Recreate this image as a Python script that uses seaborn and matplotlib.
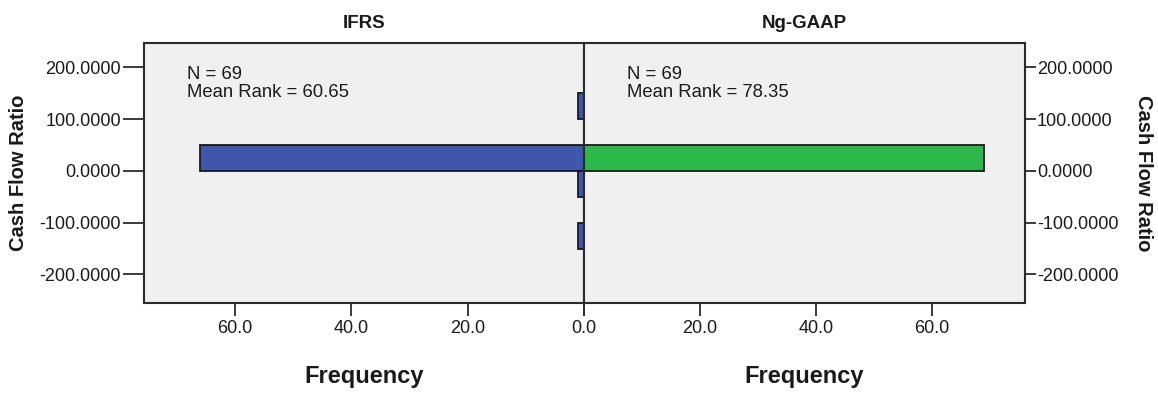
import numpy as np
import pandas as pd
import seaborn as sns
import matplotlib
matplotlib.use("Agg")
import matplotlib.pyplot as plt
from matplotlib.ticker import FixedLocator, FuncFormatter

# Frequency of Cash Flow Ratio by reporting framework (bins of width 50)
bin_width = 50
bin_range = (-250, 250)
ifrs_bin_lower = [100, 0, -50, -150]
ifrs_counts = [1, 66, 1, 1]
nggaap_bin_lower = [0]
nggaap_counts = [69]

groups = ["IFRS", "Ng-GAAP"]
group_n = [69, 69]
mean_ranks = [60.65, 78.35]

y_ticks = [200, 100, 0, -100, -200]
x_ticks = [0, 20, 40, 60]

sns.set_style("white")
plt.rcParams["font.family"] = ["Liberation Sans", "DejaVu Sans"]

BLUE = "#3E57AB"
GREEN = "#2DB84B"
PANEL_BG = "#F0F0F0"
INK = "#1A1A1A"

fig = plt.figure(figsize=(11.58, 3.94), dpi=100)
W, H = 1158, 394
top_px, bot_px = 43, 302.7
left_px, mid_px, right_px = 144, 584, 1025
ax_h = (bot_px - top_px) / H
ax_b = (H - bot_px) / H
ax_l = fig.add_axes([left_px / W, ax_b, (mid_px - left_px) / W, ax_h])
ax_r = fig.add_axes([mid_px / W, ax_b, (right_px - mid_px) / W, ax_h])

df_l = pd.DataFrame({"ratio": np.array(ifrs_bin_lower) + bin_width / 2,
                     "count": ifrs_counts})
df_r = pd.DataFrame({"ratio": np.array(nggaap_bin_lower) + bin_width / 2,
                     "count": nggaap_counts})

for ax, df, col in [(ax_l, df_l, BLUE), (ax_r, df_r, GREEN)]:
    sns.histplot(data=df, y="ratio", weights="count", binwidth=bin_width,
                 binrange=bin_range, color=col, edgecolor=INK, linewidth=1.3,
                 alpha=1, ax=ax)
    ax.set_facecolor(PANEL_BG)
    ax.set_ylim(-254.5, 247.3)
    for s in ax.spines.values():
        s.set_color("#2B2B2B")
        s.set_linewidth(1.5)
    ax.yaxis.set_major_locator(FixedLocator(y_ticks))
    ax.yaxis.set_major_formatter(FuncFormatter(lambda v, p: f"{v:.4f}"))
    ax.xaxis.set_major_locator(FixedLocator(x_ticks))
    ax.tick_params(axis="x", direction="out", length=9.5, width=1.3,
                   colors="#2B2B2B", labelsize=13, labelcolor=INK, pad=3,
                   bottom=True)

# left panel: bars grow leftwards
ax_l.set_xlim(75.6, 0)
ax_l.xaxis.set_major_formatter(FuncFormatter(lambda v, p: f"{v:.1f}"))
ax_l.yaxis.tick_left()
ax_l.tick_params(axis="y", direction="out", length=15, width=1.3,
                 colors="#2B2B2B", labelsize=13, labelcolor=INK, pad=1.5)

ax_r.set_xlim(0, 76.0)
ax_r.xaxis.set_major_formatter(
    FuncFormatter(lambda v, p: "" if v == 0 else f"{v:.1f}"))
ax_r.yaxis.tick_right()
ax_r.yaxis.set_label_position("right")
ax_r.tick_params(axis="y", direction="out", length=8, width=1.3,
                 colors="#2B2B2B", labelsize=13, labelcolor=INK, pad=0.5)

for ax, name, n, mr in zip([ax_l, ax_r], groups, group_n, mean_ranks):
    ax.set_title(name, fontsize=13.5, fontweight="bold", color=INK, pad=10.5)
    ax.set_xlabel("Frequency", fontsize=17, fontweight="bold", color=INK)
    ax.xaxis.set_label_coords(0.5, -0.309)
    ax.xaxis.label.set_verticalalignment("baseline")
    ax.text(0.0975, 0.912, f"N = {n}\nMean Rank = {mr:.2f}",
            transform=ax.transAxes, ha="left", va="top", fontsize=13.3,
            color=INK, linespacing=1.12)

ax_l.set_ylabel("Cash Flow Ratio", fontsize=14.5, fontweight="bold",
                color=INK)
ax_l.yaxis.set_label_coords((19 - left_px) / (mid_px - left_px), 0.5)
ax_l.yaxis.label.set_verticalalignment("center")

ax_r.set_ylabel("Cash Flow Ratio", fontsize=14.5, fontweight="bold",
                color=INK, rotation=270)
ax_r.yaxis.set_label_coords((1143 - mid_px) / (right_px - mid_px), 0.5)
ax_r.yaxis.label.set_verticalalignment("center")

fig.savefig("out.png", dpi=100, facecolor="white")
